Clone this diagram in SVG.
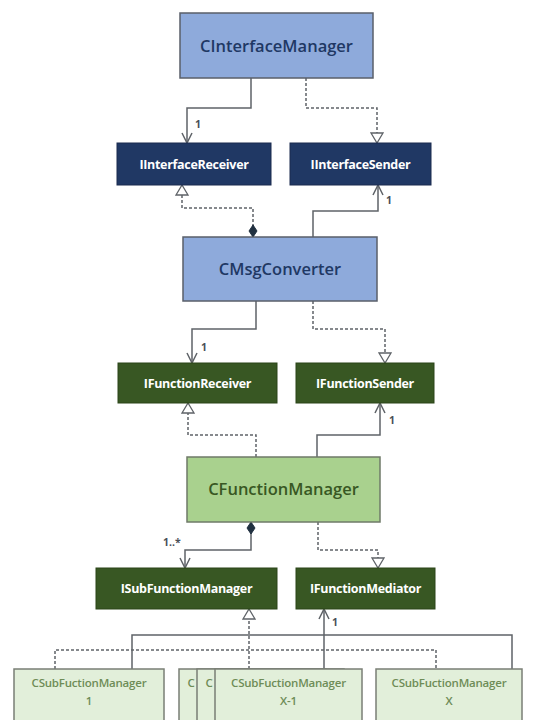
<svg xmlns="http://www.w3.org/2000/svg" width="551" height="720" viewBox="0 0 551 720">
<style>
.bg{fill:#ffffff}
.blue{fill:#8eaadb;stroke:#5a5f6a;stroke-width:1.5}
.navy{fill:#203864;stroke:#1a2b4f;stroke-width:1}
.dgreen{fill:#385723;stroke:#2b4419;stroke-width:1}
.lgreen{fill:#a9d18e;stroke:#6f7a68;stroke-width:1.5}
.pale{fill:#e2efda;stroke:#7a7f76;stroke-width:1.5}
.tb{font-family:"Open Sans","Noto Sans",sans-serif;font-weight:600;font-size:16.5px;text-anchor:middle;fill:#1f3864}
.tg{font-family:"Open Sans","Noto Sans",sans-serif;font-weight:600;font-size:16.5px;text-anchor:middle;fill:#385723}
.tw{font-family:"Open Sans","Noto Sans",sans-serif;font-weight:700;font-size:12.5px;text-anchor:middle;fill:#ffffff;letter-spacing:-0.3px}
.ts{font-family:"Open Sans","Noto Sans",sans-serif;font-weight:600;font-size:11.5px;text-anchor:middle;fill:#6e8c57;letter-spacing:-0.2px}
.lab{font-family:"Open Sans","Noto Sans",sans-serif;font-weight:700;font-size:10.5px;fill:#4a4f58}
.c{fill:none;stroke:#5f6368;stroke-width:1.5}
.d{fill:none;stroke:#5f6368;stroke-width:1.5;stroke-dasharray:3 2}
</style>
<defs>
<marker id="open" viewBox="0 0 12 12" refX="11" refY="6" markerWidth="12" markerHeight="12" markerUnits="userSpaceOnUse" orient="auto-start-reverse">
<path d="M1,1 L11,6 L1,11" fill="none" stroke="#5f6368" stroke-width="1.5"/>
</marker>
<marker id="tri" viewBox="0 0 12 14" refX="11" refY="7" markerWidth="12" markerHeight="14" markerUnits="userSpaceOnUse" orient="auto-start-reverse">
<path d="M1,1 L11,7 L1,13 Z" fill="#ffffff" stroke="#5f6368" stroke-width="1.3"/>
</marker>
<marker id="dia" viewBox="0 0 14 10" refX="13" refY="5" markerWidth="14" markerHeight="10" markerUnits="userSpaceOnUse" orient="auto-start-reverse">
<path d="M1,5 L7,1 L13,5 L7,9 Z" fill="#203040" stroke="#203040" stroke-width="1"/>
</marker>
</defs>
<rect class="bg" x="0" y="0" width="551" height="720"/>

<g id="connectors">
<path class="c" d="M251,78 V108 H187 V143" marker-end="url(#open)"/>
<path class="d" d="M306,78 V108 H377 V143" marker-end="url(#tri)"/>
<path class="d" d="M253,237 V208 H182 V185" marker-start="url(#dia)" marker-end="url(#tri)"/>
<path class="c" d="M313,237 V211 H378 V185" marker-end="url(#open)"/>
<path class="c" d="M256,301 V329 H192 V363" marker-end="url(#open)"/>
<path class="d" d="M313,301 V329 H385 V363" marker-end="url(#tri)"/>
<path class="d" d="M256,457 V435 H188 V403" marker-end="url(#tri)"/>
<path class="c" d="M317,457 V435 H380 V403" marker-end="url(#open)"/>
<path class="c" d="M251,522 V550 H185 V568" marker-start="url(#dia)" marker-end="url(#open)"/>
<path class="d" d="M318,522 V550 H378 V568" marker-end="url(#tri)"/>
<path class="d" d="M249,669 V609" marker-end="url(#tri)"/>
<path class="d" d="M55,669 V650 H436 V669"/>
<path class="c" d="M324,669 V609" marker-end="url(#open)"/>
<path class="c" d="M132,669 V635 H512 V669"/>
<text class="lab" x="195" y="128">1</text>
<text class="lab" x="386" y="204">1</text>
<text class="lab" x="201" y="351">1</text>
<text class="lab" x="389" y="424">1</text>
<text class="lab" x="163" y="546">1..*</text>
<text class="lab" x="332" y="626">1</text>
</g>

<g id="CInterfaceManager">
<rect class="blue" x="180" y="13" width="193" height="65"/>
<text class="tb" x="276.5" y="52">CInterfaceManager</text>
</g>
<g id="IInterfaceReceiver">
<rect class="navy" x="117" y="143" width="154" height="42"/>
<text class="tw" x="194" y="169">IInterfaceReceiver</text>
</g>
<g id="IInterfaceSender">
<rect class="navy" x="290" y="143" width="141" height="42"/>
<text class="tw" x="360.5" y="169">IInterfaceSender</text>
</g>
<g id="CMsgConverter">
<rect class="blue" x="183" y="237" width="194" height="64"/>
<text class="tb" x="280" y="275">CMsgConverter</text>
</g>
<g id="IFunctionReceiver">
<rect class="dgreen" x="118" y="363" width="159" height="40"/>
<text class="tw" x="197.5" y="388">IFunctionReceiver</text>
</g>
<g id="IFunctionSender">
<rect class="dgreen" x="296" y="363" width="138" height="40"/>
<text class="tw" x="365" y="388">IFunctionSender</text>
</g>
<g id="CFunctionManager">
<rect class="lgreen" x="187" y="457" width="193" height="65"/>
<text class="tg" x="283.5" y="495">CFunctionManager</text>
</g>
<g id="ISubFunctionManager">
<rect class="dgreen" x="96" y="568" width="181" height="41"/>
<text class="tw" x="186.5" y="593">ISubFunctionManager</text>
</g>
<g id="IFunctionMediator">
<rect class="dgreen" x="296" y="568" width="139" height="41"/>
<text class="tw" x="365.5" y="593">IFunctionMediator</text>
</g>
<g id="CSubFuctionManager1">
<rect class="pale" x="14" y="669" width="150" height="56"/>
<text class="ts" x="89" y="687">CSubFuctionManager</text>
<text class="ts" x="89" y="705">1</text>
</g>
<g id="CSubFuctionManagerStack">
<rect class="pale" x="179" y="669" width="147" height="56"/>
<text class="ts" x="191" y="687">C</text>
<rect class="pale" x="197" y="669" width="147" height="56"/>
<text class="ts" x="209" y="687">C</text>
</g>
<g id="CSubFuctionManagerX-1">
<rect class="pale" x="215" y="669" width="147" height="56"/>
<text class="ts" x="288.5" y="687">CSubFuctionManager</text>
<text class="ts" x="288.5" y="705">X-1</text>
</g>
<g id="CSubFuctionManagerX">
<rect class="pale" x="376" y="669" width="146" height="56"/>
<text class="ts" x="449" y="687">CSubFuctionManager</text>
<text class="ts" x="449" y="705">X</text>
</g>
</svg>
